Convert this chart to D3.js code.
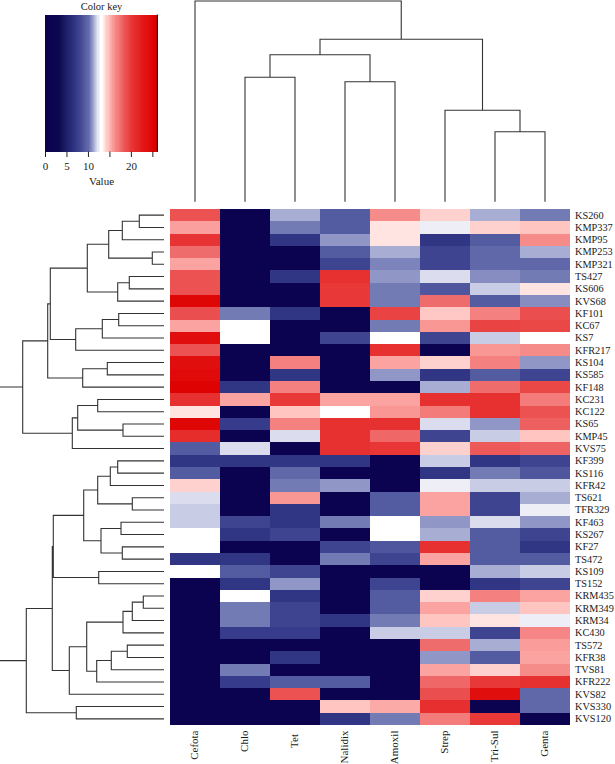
<!DOCTYPE html>
<html><head><meta charset="utf-8">
<script src="https://cdnjs.cloudflare.com/ajax/libs/d3/7.8.5/d3.min.js"></script>
<style>html,body{margin:0;padding:0;background:#fff}svg{display:block}text{font-family:"Liberation Serif",serif;fill:#1a1a1a}</style>
</head><body><div id="chart"></div>
<script>
const drugs=["Cefota","Chlo","Tet","Nalidix","Amoxil","Strep","Tri-Sul","Genta"];
const strains=["KS260","KMP337","KMP95","KMP253","KMP321","TS427","KS606","KVS68","KF101","KC67","KS7","KFR217","KS104","KS585","KF148","KC231","KC122","KS65","KMP45","KVS75","KF399","KS116","KFR42","TS621","TFR329","KF463","KS267","KF27","TS472","KS109","TS152","KRM435","KRM349","KRM34","KC430","TS572","KFR38","TVS81","KFR222","KVS82","KVS330","KVS120"];
const values=[
[18.8,1,11.4,9.3,16.4,14.3,11.4,10.4],
[15.7,1,10.4,9.3,13.9,12.5,14.3,14.6],
[20.4,1,7,11,13.9,7,9.3,16.4],
[17.6,1,1,9.3,11.4,8,10,11.4],
[15.6,1,1,8,10.6,8,10,10],
[18.8,1,7,20.6,11,12.2,10.8,10.4],
[18.8,1,1,20,10.4,9,11.9,13.9],
[25,1,1,20,10.4,17.6,9.3,10.8],
[19,10.4,7,1,19.5,14.5,16.8,19],
[15.6,13,1,1,10.4,16,19.5,19.3],
[24,13,1,8,13,8,11.9,13],
[18.8,1,1,1,20.6,1,16,16.4],
[24,1,16.8,1,15.6,14.3,16.8,11],
[24.5,1,7,1,11,7,9.3,8],
[25.5,7,16.8,1,1,11.4,17.6,19.3],
[20.6,15.6,20,15.6,15.6,20.6,20.6,17],
[13.9,1,14.6,13,16,17,20.6,18.8],
[25,7.5,16.8,20.6,20.6,12.2,11,18.2],
[21,1,12.2,20.6,17.8,8,11.9,14.6],
[9.3,12.2,1,20.6,20.2,14.3,18.5,18],
[7,7,7,7,1,11.9,7,8],
[9.3,1,10,1,1,7,10.4,9],
[14.3,1,10.4,11,1,12.5,11.9,11.9],
[12.2,1,16,1,9.3,15.6,8,11.4],
[11.9,1,7,1,9.3,15.6,8,12.5],
[11.9,8,7,10.4,13,11,12.2,11],
[13,7,8,1,13,11.4,9.3,8],
[13,1,1,8,9,20.6,9.3,7],
[7,7,1,10.4,8,15.6,9.3,9.3],
[13,9.3,8,1,1,1,11.4,11.9],
[1,7,11,1,8,1,7,8],
[1,13,7,1,9.3,14.3,16.8,15.6],
[1,10.4,8,1,9.3,15.6,11.9,14.6],
[1,10.4,8,7,10.4,14.6,13.9,12.5],
[1,7.5,7.5,1,11.9,11.9,8,16.6],
[1,1,1,1,1,17.6,11.4,15.8],
[1,1,7,1,1,11,9.3,15.6],
[1,10.4,1,1,1,15.6,14.3,16.4],
[1,7.5,9.3,9.3,1,17.8,20,20.6],
[1,1,18.8,1,1,19,24,10],
[1,1,1,14.6,15.4,20.8,1,10],
[1,1,1,7,10.4,17,20,1]];
const colorStops=[0,3.2,5,7.3,10,11.2,12,12.8,13.3,14.5,15.8,17.4,20,22.7,25.8];
const colorRange=["#0a004e","#0c0850","#1e206a","#333888","#6068aa","#9aa0cc","#cfd2e8","#ffffff","#ffffff","#ffc8c4","#fa9c9a","#f07070","#e83838","#e41818","#dd0000"];
const keyTicks=[0,5,10,15,20,25];
const keyLabelled=[0,5,10,20];
// Merges: [left,right,height]; -n = leaf index n-1, +n = merge n (1-based)
const colMerge=[[-7,-8,70],[-2,-3,124.5],[-4,-5,120],[-6,1,91.5],[2,3,147],[5,4,162.5],[-1,6,200.7]];
const rowMerge=[
[-1,-2,24.7],[1,-3,41.7],[-4,-5,11.7],[2,3,55.3],[-6,-7,34.7],[5,-8,46.3],[4,6,76.7],
[-9,-10,45.3],[8,-11,61.7],[9,-12,88.3],[7,10,113.7],
[-13,-14,56.7],[12,-15,81.3],[11,13,116.3],
[-16,-17,66.3],[-18,-19,41],[15,16,86.3],[17,-20,91.7],[14,18,141.3],
[-21,-22,46.3],[20,-23,53.7],[-24,-25,31.7],[21,22,66.3],[-26,-27,43],[-28,-29,41.7],[24,25,63],[23,26,80.3],[-30,-31,65.3],[27,28,110.7],
[-32,-33,20.7],[30,-34,31.7],[31,-35,41],[-36,-37,36.7],[33,-38,52.7],[34,-39,67.3],[32,35,77.3],[36,-40,94.7],[29,37,111.7],
[-41,-42,87.7],[38,39,137.7],[19,40,175]];

const W=615,H=764;
const svg=d3.select("#chart").append("svg").attr("width",W).attr("height",H);
const x=d3.scaleBand().domain(drugs).range([170,570]);
const y=d3.scaleBand().domain(strains).range([209,725]);
const color=d3.scaleLinear().domain(colorStops).range(colorRange).clamp(true);

svg.append("g").attr("shape-rendering","crispEdges").selectAll("g").data(values).join("g")
 .selectAll("rect").data((r,i)=>r.map((v,j)=>({v,s:strains[i],d:drugs[j]}))).join("rect")
 .attr("x",d=>x(d.d)).attr("y",d=>y(d.s)).attr("width",x.bandwidth()).attr("height",y.bandwidth())
 .attr("fill",d=>color(d.v));

svg.append("g").selectAll("text").data(strains).join("text")
 .attr("x",575).attr("y",d=>y(d)+y.bandwidth()/2).attr("dy","0.33em").attr("font-size",10.3).text(d=>d);
svg.append("g").selectAll("text").data(drugs).join("text")
 .attr("transform",d=>`translate(${x(d)+x.bandwidth()/2+3},${d==="Tet"?734:730.5}) rotate(-90)`)
 .attr("text-anchor","end").attr("font-size",11).text(d=>d);

function build(merge,leafPos){
  const nodes=merge.map(()=>null);
  const get=k=>k<0?{p:leafPos(-k-1),h:0}:nodes[k-1];
  merge.forEach((m,i)=>{const a=get(m[0]),b=get(m[1]);nodes[i]={p:(a.p+b.p)/2,h:m[2],a,b};});
  return nodes;
}
const colH=d3.scaleLinear().domain([0,200.7]).range([201.7,1]);
const rowH=d3.scaleLinear().domain([0,164]).range([164,0]);
const colPath=d3.path();
build(colMerge,i=>x(drugs[i])+x.bandwidth()/2).forEach(n=>{
  colPath.moveTo(n.a.p,colH(n.a.h));colPath.lineTo(n.a.p,colH(n.h));colPath.lineTo(n.b.p,colH(n.h));colPath.lineTo(n.b.p,colH(n.b.h));
});
svg.append("path").attr("d",colPath.toString()).attr("fill","none").attr("stroke","#333").attr("stroke-width",1.1);
const rowPath=d3.path();
build(rowMerge,i=>y(strains[i])+y.bandwidth()/2).forEach(n=>{
  rowPath.moveTo(rowH(n.a.h),n.a.p);rowPath.lineTo(rowH(n.h),n.a.p);rowPath.lineTo(rowH(n.h),n.b.p);rowPath.lineTo(rowH(n.b.h),n.b.p);
});
svg.append("path").attr("d",rowPath.toString()).attr("fill","none").attr("stroke","#333").attr("stroke-width",1.1);

const kx=d3.scaleLinear().domain([0,26.2]).range([45,157.5]);
const kTop=14.5,kBot=151.5;
const bins=d3.range(0,26.2,0.26);
svg.append("g").attr("shape-rendering","crispEdges").selectAll("rect").data(bins).join("rect")
 .attr("x",d=>kx(d)).attr("y",kTop).attr("width",d=>kx(d+0.26)-kx(d)+0.5).attr("height",kBot-kTop).attr("fill",d=>color(d+0.13));
svg.append("line").attr("x1",157.3).attr("x2",157.3).attr("y1",kTop).attr("y2",kBot).attr("stroke","#111");
const ax=svg.append("g").attr("transform",`translate(0,${kBot})`)
 .call(d3.axisBottom(kx).tickValues(keyTicks).tickSize(5.5).tickPadding(5).tickFormat(d=>keyLabelled.includes(d)?d:""));
ax.select(".domain").remove();
ax.selectAll("line").attr("stroke","#222");
ax.selectAll("text").attr("font-size",11).style("font-family",'"Liberation Serif",serif').attr("fill","#1a1a1a");
svg.append("text").attr("x",101.5).attr("y",10).attr("text-anchor","middle").attr("font-size",10.5).text("Color key");
svg.append("text").attr("x",101.5).attr("y",184.5).attr("text-anchor","middle").attr("font-size",11).text("Value");
</script></body></html>
